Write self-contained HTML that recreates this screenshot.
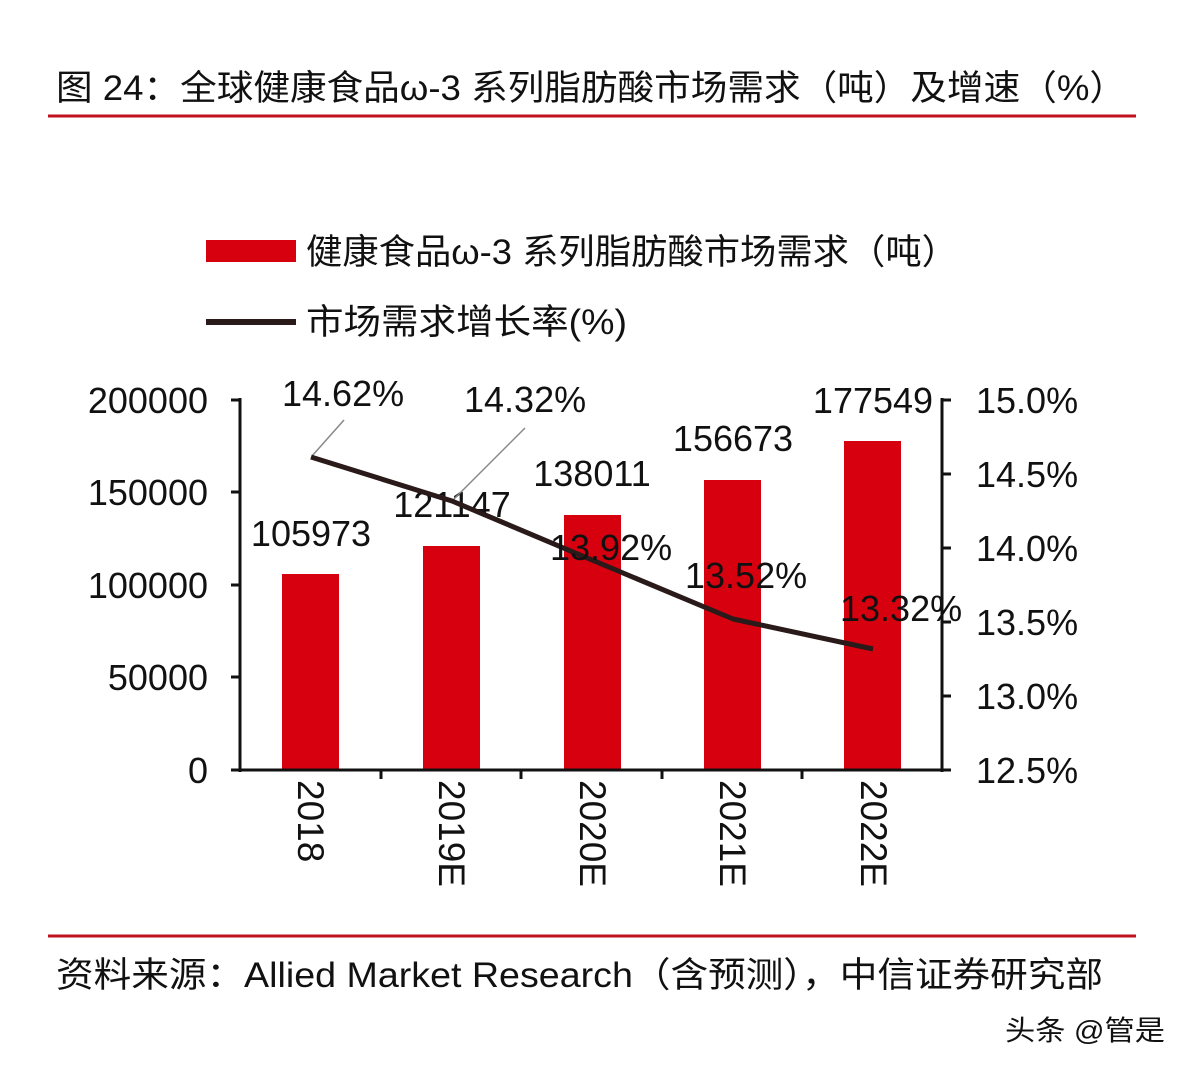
<!DOCTYPE html>
<html><head><meta charset="utf-8"><style>
body{margin:0;background:#fff;}
svg text{font-family:"Liberation Sans","Noto Sans CJK SC",sans-serif;fill:#111;}
</style></head><body>
<svg width="1192" height="1072" xmlns="http://www.w3.org/2000/svg">
<rect width="1192" height="1072" fill="#fff"/>
<text x="56" y="100" font-size="35" textLength="1070" lengthAdjust="spacingAndGlyphs">图 24：全球健康食品ω-3 系列脂肪酸市场需求（吨）及增速（%）</text>
<line x1="48" y1="116" x2="1136" y2="116" stroke="#c0111f" stroke-width="3"/>
<rect x="206" y="240" width="90" height="22" fill="#d7000f"/>
<text x="306" y="264" font-size="35" textLength="652" lengthAdjust="spacingAndGlyphs">健康食品ω-3 系列脂肪酸市场需求（吨）</text>
<line x1="206" y1="322" x2="296" y2="322" stroke="#2a1a1a" stroke-width="6"/>
<text x="306" y="334" font-size="35" textLength="321" lengthAdjust="spacingAndGlyphs">市场需求增长率(%)</text>
<g fill="#d7000f">
<rect x="282" y="574" width="57" height="196"/>
<rect x="423" y="546" width="57" height="224"/>
<rect x="564" y="515" width="57" height="255"/>
<rect x="704" y="480" width="57" height="290"/>
<rect x="844" y="441" width="57" height="329"/>
</g>
<g stroke="#111" stroke-width="3" fill="none">
<line x1="240" y1="398" x2="240" y2="772"/>
<line x1="942" y1="398" x2="942" y2="772"/>
<line x1="238" y1="770" x2="944" y2="770"/>
<line x1="231" y1="400" x2="240" y2="400"/><line x1="231" y1="492" x2="240" y2="492"/><line x1="231" y1="585" x2="240" y2="585"/><line x1="231" y1="677" x2="240" y2="677"/><line x1="231" y1="770" x2="240" y2="770"/>
<line x1="942" y1="400" x2="951" y2="400"/><line x1="942" y1="474" x2="951" y2="474"/><line x1="942" y1="548" x2="951" y2="548"/><line x1="942" y1="622" x2="951" y2="622"/><line x1="942" y1="696" x2="951" y2="696"/><line x1="942" y1="770" x2="951" y2="770"/>
<line x1="381" y1="770" x2="381" y2="779"/><line x1="521" y1="770" x2="521" y2="779"/><line x1="662" y1="770" x2="662" y2="779"/><line x1="802" y1="770" x2="802" y2="779"/>
</g>
<g font-size="36" text-anchor="end">
<text x="208" y="413">200000</text><text x="208" y="505">150000</text><text x="208" y="598">100000</text><text x="208" y="690">50000</text><text x="208" y="783">0</text>
</g>
<g font-size="36">
<text x="976" y="413">15.0%</text><text x="976" y="487">14.5%</text><text x="976" y="561">14.0%</text><text x="976" y="635">13.5%</text><text x="976" y="709">13.0%</text><text x="976" y="783">12.5%</text>
</g>
<g font-size="36" text-anchor="middle">
<text x="311" y="546">105973</text><text x="452" y="517">121147</text><text x="592" y="486">138011</text><text x="733" y="451">156673</text><text x="873" y="413">177549</text>
</g>
<g stroke="#888" stroke-width="1.5"><line x1="344" y1="420" x2="312" y2="456"/><line x1="525" y1="428" x2="453" y2="500"/></g>
<polyline points="311,457 452,501 592,560 733,619 873,649" fill="none" stroke="#2a1a1a" stroke-width="5" stroke-linejoin="round"/>
<g font-size="36">
<text x="282" y="406">14.62%</text><text x="464" y="412">14.32%</text><text x="550" y="560">13.92%</text><text x="685" y="588">13.52%</text><text x="840" y="621">13.32%</text>
</g>
<g font-size="37">
<text transform="translate(298,780) rotate(90)">2018</text>
<text transform="translate(439,780) rotate(90)">2019E</text>
<text transform="translate(580,780) rotate(90)">2020E</text>
<text transform="translate(720,780) rotate(90)">2021E</text>
<text transform="translate(861,780) rotate(90)">2022E</text>
</g>
<line x1="48" y1="936" x2="1136" y2="936" stroke="#c0111f" stroke-width="3"/>
<text x="56" y="987" font-size="35" textLength="1047" lengthAdjust="spacingAndGlyphs">资料来源：Allied Market Research（含预测），中信证券研究部</text>
<text x="1005" y="1040" font-size="28" fill="#333" textLength="160" lengthAdjust="spacingAndGlyphs">头条 @管是</text>
</svg>
</body></html>
